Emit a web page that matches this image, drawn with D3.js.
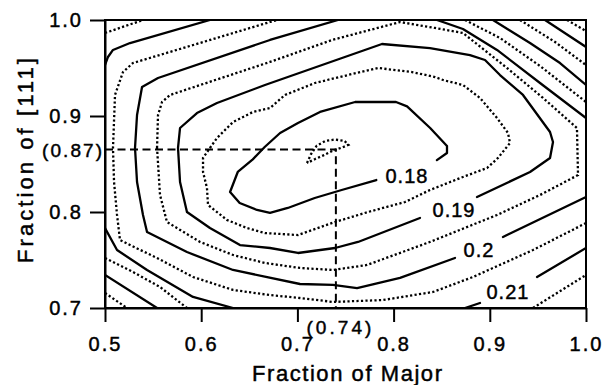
<!DOCTYPE html>
<html><head><meta charset="utf-8">
<script src="https://cdn.jsdelivr.net/npm/d3@7"></script>
<style>body{margin:0;background:#fff}svg{display:block}</style>
</head><body>
<svg id="chart" width="604" height="385"></svg>
<script>
// ---- axis data ----
const xTicks = [0.5, 0.6, 0.7, 0.8, 0.9, 1.0];
const yTicks = [0.7, 0.8, 0.9, 1.0];
const xTitle = "Fraction of Major";
const yTitle = "Fraction of [111]";
const crossX = 0.74, crossY = 0.865;
const crossLabelX = "(0.74)", crossLabelY = "(0.87)";

// ---- contour lines (data coords), each level = list of segments ----
const level0175 = [[[0.710,0.851],[0.714,0.860],[0.720,0.869],[0.729,0.874],[0.739,0.8755],[0.749,0.874],[0.753,0.870],[0.746,0.867],[0.737,0.864],[0.727,0.859],[0.718,0.855],[0.710,0.851]]];
const level018 = [[[0.845,0.854],[0.8555,0.8615],[0.8555,0.8688],[0.838,0.8875],[0.814,0.910],[0.8025,0.9146],[0.760,0.9146],[0.7235,0.9042],[0.7006,0.8927],[0.682,0.8823],[0.666,0.8677],[0.653,0.8542],[0.638,0.8417],[0.630,0.8208],[0.640,0.8094],[0.658,0.8021],[0.6715,0.799],[0.690,0.8042],[0.718,0.8146],[0.746,0.8229],[0.782,0.8333]]];
const level0185 = [[[0.6091,0.8667],[0.6164,0.8771],[0.6331,0.8937],[0.6538,0.9042],[0.6715,0.9083],[0.6871,0.9219],[0.7183,0.9344],[0.7526,0.9427],[0.7838,0.9500],[0.8191,0.9458],[0.8430,0.9406],[0.8514,0.9375],[0.8721,0.9323],[0.8898,0.9188],[0.9075,0.8979],[0.9189,0.8823],[0.9210,0.8719],[0.9085,0.8563],[0.8971,0.8458],[0.8721,0.8365],[0.8378,0.8229],[0.8119,0.8104],[0.7734,0.8000],[0.7391,0.7896],[0.7006,0.7760],[0.6663,0.7781],[0.6476,0.7833],[0.6268,0.7917],[0.6071,0.8073],[0.6060,0.8250],[0.6019,0.8417],[0.6019,0.8563],[0.6091,0.8667]]];
const level019 = [[[0.8867,0.8156],[0.9418,0.8417],[0.9626,0.8563],[0.9657,0.8729],[0.9626,0.8833],[0.9345,0.9219],[0.9106,0.9427],[0.8950,0.9583],[0.8794,0.9635],[0.8378,0.9708],[0.7879,0.9750],[0.6663,0.9323],[0.6164,0.9135],[0.5956,0.9031],[0.5780,0.8875],[0.5759,0.8667],[0.5780,0.8313],[0.5852,0.8000],[0.6091,0.7833],[0.6403,0.7656],[0.6715,0.7625],[0.7006,0.7573],[0.7391,0.7625],[0.7630,0.7688],[0.8274,0.7938]]];
const level0195 = [[[0.5541,0.8667],[0.5551,0.9010],[0.5593,0.9146],[0.5676,0.9219],[0.6715,0.9563],[0.7360,0.9792],[0.8067,0.9979],[0.8430,0.9917],[0.8721,0.9865],[0.9179,0.9500],[0.9553,0.9188],[0.9906,0.8875],[0.9917,0.8385],[0.9522,0.8177],[0.9075,0.7969],[0.8378,0.7688],[0.7723,0.7448],[0.7370,0.7396],[0.7027,0.7417],[0.6663,0.7469],[0.6331,0.7552],[0.5988,0.7688],[0.5644,0.7896],[0.5572,0.8177],[0.5541,0.8667]]];
const level020 = [
  [[1.0,0.8156],[0.9137,0.7740]],
  [[0.8638,0.7521],[0.8067,0.7313],[0.7620,0.7208],[0.7370,0.7240],[0.7027,0.7250],[0.6331,0.7396],[0.5852,0.7583],[0.5437,0.7792],[0.5395,0.7969],[0.5333,0.8313],[0.5312,0.8667],[0.5333,0.9010],[0.5385,0.9302],[0.5551,0.9396],[0.6715,0.9792],[0.7422,1.0]],
  [[0.8451,1.0],[0.8721,0.9906],[0.9075,0.9688],[0.9522,0.9344],[1.0,0.8979]]
];
const level0205 = [
  [[1.0,0.7885],[0.9449,0.7604],[0.8825,0.7323],[0.8410,0.7167],[0.7890,0.7083],[0.7370,0.7063],[0.7027,0.7104],[0.6715,0.7135],[0.6331,0.7188],[0.5915,0.7323],[0.5541,0.7521],[0.5260,0.7656],[0.5156,0.7708],[0.5125,0.7969],[0.5094,0.8313],[0.5083,0.8667],[0.5104,0.9219],[0.5187,0.9458],[0.5291,0.9552],[0.6715,0.9979],[0.6788,1.0]],
  [[0.8742,1.0],[0.9106,0.9813],[0.9522,0.9521],[1.0,0.9146]]
];
const level021 = [
  [[0.8742,0.7],[0.8898,0.7052]],
  [[0.9491,0.7323],[1.0,0.7625]],
  [[0.5,0.7833],[0.5125,0.7604],[0.5437,0.7396],[0.5915,0.7115],[0.6331,0.7]],
  [[0.5,0.9531],[0.5031,0.9615],[0.5083,0.9688],[0.5260,0.9760],[0.6091,1.0]],
  [[0.9033,1.0],[0.9418,0.9760],[0.9730,0.9552],[1.0,0.9323]]
];
const level0215 = [
  [[0.9449,0.7],[1.0,0.7344]],
  [[0.5,0.7521],[0.5291,0.7375],[0.5572,0.7219],[0.5852,0.7]],
  [[0.5,0.9865],[0.5395,1.0]],
  [[0.9314,1.0],[0.9678,0.9771],[1.0,0.9531]]
];
const level022 = [
  [[0.5,0.7344],[0.5541,0.7]],
  [[0.9574,1.0],[1.0,0.9719]]
];
const level0225 = [
  [[0.5,0.7156],[0.5229,0.7]],
  [[0.9803,1.0],[1.0,0.9885]]
];
const solidLevels = [level018, level019, level020, level021, level022];
const dottedLevels = [level0175, level0185, level0195, level0205, level0215, level0225];

const labelText = ["0.18", "0.19", "0.2", "0.21"];
const labelX = [0.8139, 0.8628, 0.8888, 0.9189];
const labelY = [0.8375, 0.8021, 0.7604, 0.7167];

// ---- drawing ----
const svg = d3.select("#chart");
const m = {left:105, right:586, top:20, bottom:308};
const x = d3.scaleLinear().domain([0.5,1.0]).range([m.left, m.right]);
const y = d3.scaleLinear().domain([0.7,1.0]).range([m.bottom, m.top]);
const FONT = "'Liberation Sans', Arial, Helvetica, sans-serif";
const textStyle = sel => sel.style("font-family",FONT).attr("fill","#000")
  .attr("stroke","#000").attr("stroke-width",0.45);

svg.append("defs").append("clipPath").attr("id","clip")
  .append("rect").attr("x",m.left).attr("y",m.top).attr("width",m.right-m.left).attr("height",m.bottom-m.top);

const line = d3.line().x(d=>x(d[0])).y(d=>y(d[1]));
const g = svg.append("g").attr("clip-path","url(#clip)");

solidLevels.forEach(lv => lv.forEach(seg => {
  g.append("path").attr("d", line(seg)).attr("fill","none").attr("stroke","#000")
   .attr("stroke-width",2.3).attr("stroke-linejoin","round").attr("stroke-linecap","round");
}));
dottedLevels.forEach(lv => lv.forEach(seg => {
  g.append("path").attr("d", line(seg)).attr("fill","none").attr("stroke","#000")
   .attr("stroke-width",2.3).attr("stroke-dasharray","2.2,2.3");
}));

// crosshair
g.append("path").attr("d", line([[0.5,crossY],[crossX,crossY],[crossX,0.7]]))
  .attr("fill","none").attr("stroke","#000").attr("stroke-width",2).attr("stroke-dasharray","8,4.5");

// contour labels
labelText.forEach((t,i) => {
  svg.append("text").attr("x", x(labelX[i])).attr("y", y(labelY[i]))
    .attr("dy","0.36em").attr("text-anchor","middle")
    .style("font-size","20px").style("letter-spacing","1px")
    .call(textStyle).text(t);
});

// frame
svg.append("rect").attr("x",m.left).attr("y",m.top).attr("width",m.right-m.left).attr("height",m.bottom-m.top)
  .attr("fill","none").attr("stroke","#000").attr("stroke-width",2);

// axes
const xAxis = d3.axisBottom(x).tickValues(xTicks).tickFormat(d3.format(".1f")).tickSize(14).tickSizeOuter(0).tickPadding(15);
const yAxis = d3.axisLeft(y).tickValues(yTicks).tickFormat(d3.format(".1f")).tickSize(15).tickSizeOuter(0).tickPadding(7);
const gx = svg.append("g").attr("transform",`translate(0,${m.bottom})`).call(xAxis);
const gy = svg.append("g").attr("transform",`translate(${m.left},0)`).call(yAxis);
[gx,gy].forEach(a => {
  a.select(".domain").attr("stroke-width",2);
  a.selectAll(".tick line").attr("stroke-width",2);
  a.selectAll(".tick text").style("font-size","20px").style("letter-spacing","2px").call(textStyle);
});

// cross labels
svg.append("text").attr("x", x(crossX)+3).attr("y", 334).attr("text-anchor","middle")
  .attr("textLength",65).attr("lengthAdjust","spacing")
  .style("font-size","19px").call(textStyle).text(crossLabelX);
svg.append("text").attr("x", 42).attr("y", y(crossY)+7)
  .attr("textLength",60).attr("lengthAdjust","spacing")
  .style("font-size","19px").call(textStyle).text(crossLabelY);

// titles
svg.append("text").attr("x",347).attr("y",381).attr("text-anchor","middle")
  .attr("textLength",190).attr("lengthAdjust","spacing")
  .style("font-size","22px").call(textStyle).text(xTitle);
svg.append("text").attr("transform","translate(33,160.5) rotate(-90)").attr("text-anchor","middle")
  .attr("textLength",205).attr("lengthAdjust","spacing")
  .style("font-size","22px").call(textStyle).text(yTitle);
</script>
</body></html>
